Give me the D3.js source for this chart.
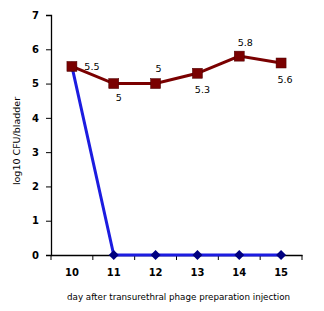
<!DOCTYPE html>
<html>
<head>
<meta charset="utf-8">
<script src="https://cdn.jsdelivr.net/npm/d3@7"></script>
<style>
  body { margin: 0; background: #fff; }
  text { font-family: "DejaVu Sans", Verdana, sans-serif; }
</style>
</head>
<body>
<div id="chart"></div>
<script>
// chart data
const days = [10, 11, 12, 13, 14, 15];
const controlValues = [5.5, 5, 5, 5.3, 5.8, 5.6];
const phageValues = [5.5, 0, 0, 0, 0, 0];
const controlLabels = ["5.5", "5", "5", "5.3", "5.8", "5.6"];
const yTicks = [0, 1, 2, 3, 4, 5, 6, 7];

const margin = {top: 15, right: 22, bottom: 56, left: 51};
const width = 324 - margin.left - margin.right;
const height = 311 - margin.top - margin.bottom;

const svg = d3.select("#chart").append("svg")
    .attr("width", 324)
    .attr("height", 311)
    .append("g")
    .attr("transform", "translate(" + margin.left + "," + margin.top + ")");

const x = d3.scaleBand()
    .domain(days)
    .range([0, width]);

const y = d3.scaleLinear()
    .domain([0, 7])
    .range([height, 0]);

const cx = d => x(d) + x.bandwidth() / 2;

// axes
const yAxis = d3.axisLeft(y).tickValues(yTicks).tickFormat(d3.format("d")).tickSize(5).tickPadding(7);
const yg = svg.append("g").call(yAxis);
yg.select(".domain").attr("stroke", "#000").attr("stroke-width", 1.3);
yg.selectAll("line").attr("stroke", "#000");
yg.selectAll("text").attr("font-size", 10).attr("font-weight", "bold").attr("fill", "#000");

const xAxis = d3.axisBottom(x).tickSize(0).tickPadding(14);
const xg = svg.append("g")
    .attr("transform", "translate(0," + height + ")")
    .call(xAxis);
xg.select(".domain").attr("stroke", "#000").attr("stroke-width", 1.3);
xg.selectAll("text").attr("font-size", 10).attr("font-weight", "bold").attr("fill", "#000");

// tick marks at band boundaries
const bounds = days.map(d => x(d)).concat([width]);
xg.selectAll("line.bound")
    .data(bounds)
    .enter()
    .append("line")
    .attr("class", "bound")
    .attr("x1", d => d).attr("x2", d => d)
    .attr("y1", 0).attr("y2", 5)
    .attr("stroke", "#000");

// phage-treated series
const line = d3.line()
    .x((d, i) => cx(days[i]))
    .y(d => y(d));

svg.append("path")
    .datum(phageValues)
    .attr("fill", "none")
    .attr("stroke", "#1c1ce0")
    .attr("stroke-width", 3)
    .attr("d", line);

svg.selectAll("path.diamond")
    .data(phageValues)
    .enter()
    .append("path")
    .attr("class", "diamond")
    .attr("d", "M0,-5L5,0L0,5L-5,0Z")
    .attr("transform", (d, i) => "translate(" + cx(days[i]) + "," + y(d) + ")")
    .attr("fill", "#000080");

// control series
svg.append("path")
    .datum(controlValues)
    .attr("fill", "none")
    .attr("stroke", "#7a0000")
    .attr("stroke-width", 3)
    .attr("d", line);

svg.selectAll("rect.sq")
    .data(controlValues)
    .enter()
    .append("rect")
    .attr("class", "sq")
    .attr("x", (d, i) => cx(days[i]) - 5)
    .attr("y", d => y(d) - 5)
    .attr("width", 10)
    .attr("height", 10)
    .attr("fill", "#7a0000")
    .attr("stroke", "#4a0000")
    .attr("stroke-width", 0.5);

// data labels
const labelOffsets = [[20, 4], [5, 17], [3, -12], [5, 20], [6, -10], [4, 20]];
svg.selectAll("text.lab")
    .data(controlValues)
    .enter()
    .append("text")
    .attr("class", "lab")
    .attr("x", (d, i) => cx(days[i]) + labelOffsets[i][0])
    .attr("y", (d, i) => y(d) + labelOffsets[i][1])
    .attr("text-anchor", "middle")
    .attr("font-size", 9.5)
    .text((d, i) => controlLabels[i]);

// axis titles
svg.append("text")
    .attr("x", width / 2 + 2)
    .attr("y", height + 45)
    .attr("text-anchor", "middle")
    .attr("font-size", 9)
    .attr("textLength", 223)
    .attr("lengthAdjust", "spacingAndGlyphs")
    .text("day after transurethral phage preparation injection");

svg.append("text")
    .attr("transform", "translate(-31," + (height / 2 + 6) + ") rotate(-90)")
    .attr("text-anchor", "middle")
    .attr("font-size", 9.5)
    .text("log10 CFU/bladder");
</script>
</body>
</html>
